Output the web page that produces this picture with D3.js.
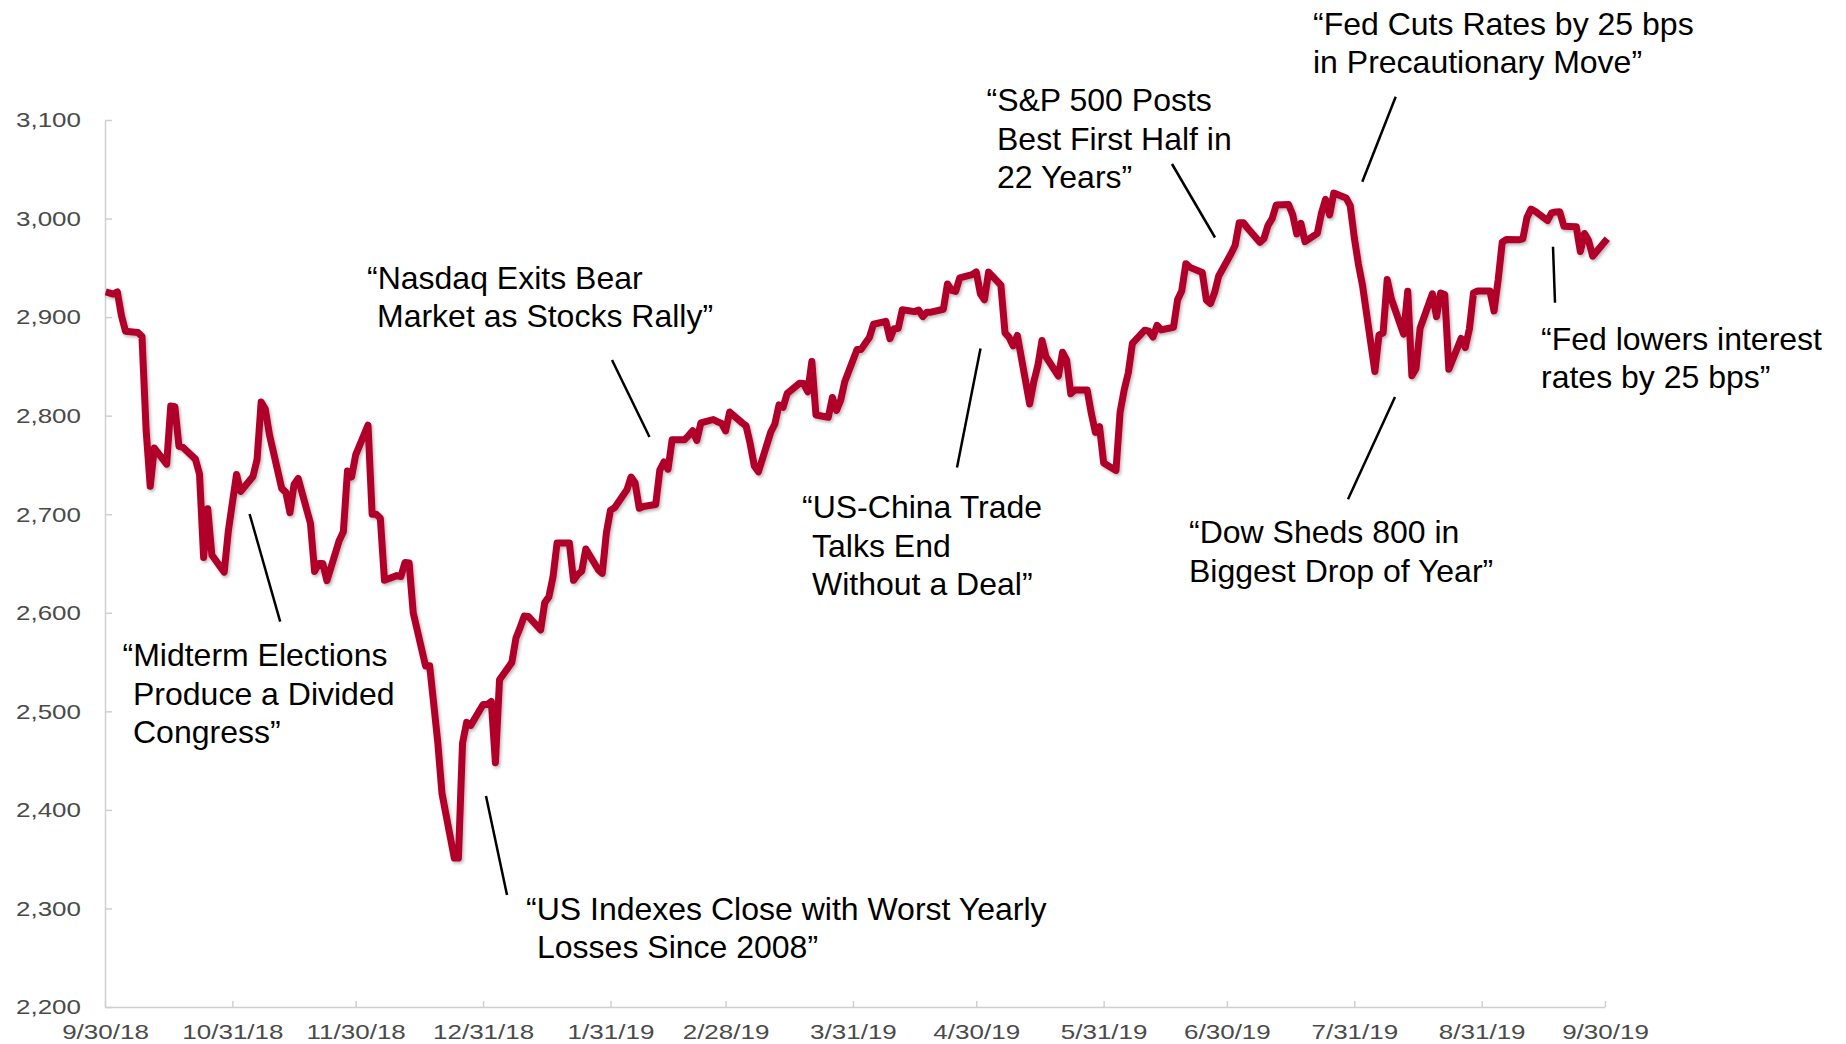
<!DOCTYPE html>
<html>
<head>
<meta charset="utf-8">
<script src="https://cdn.jsdelivr.net/npm/d3@7"></script>
<style>
  html, body { margin: 0; padding: 0; background: #fff; }
  svg { display: block; }
</style>
</head>
<body>
<svg id="chart" width="1846" height="1044"></svg>
<script>
// S&P 500 daily closes, Oct 2018 - Sep 2019 (market holidays carry the prior close)
const oct18Days  = [1,2,3,4,5,8,9,10,11,12,15,16,17,18,19,22,23,24,25,26,29,30,31];
const oct18Close = [2924.59,2923.43,2925.51,2901.61,2885.57,2884.43,2880.34,2785.68,2728.37,2767.13,2750.79,2809.92,2809.21,2768.78,2767.78,2755.88,2740.69,2656.10,2705.57,2658.69,2641.25,2682.63,2711.74];
const nov18Days  = [1,2,5,6,7,8,9,12,13,14,15,16,19,20,21,22,23,26,27,28,29,30];
const nov18Close = [2740.37,2723.06,2738.31,2755.45,2813.89,2806.83,2781.01,2726.22,2722.18,2701.58,2730.20,2736.27,2690.73,2641.89,2649.93,2649.93,2632.56,2673.45,2682.17,2743.79,2737.80,2760.17];
const dec18Days  = [3,4,5,6,7,10,11,12,13,14,17,18,19,20,21,24,25,26,27,28,31];
const dec18Close = [2790.37,2700.06,2700.06,2695.95,2633.08,2637.72,2636.78,2651.07,2650.54,2599.95,2545.94,2546.16,2506.96,2467.42,2416.62,2351.10,2351.10,2467.70,2488.83,2485.74,2506.85];
const jan19Days  = [1,2,3,4,7,8,9,10,11,14,15,16,17,18,21,22,23,24,25,28,29,30,31];
const jan19Close = [2506.85,2510.03,2447.89,2531.94,2549.69,2574.41,2584.96,2596.64,2596.26,2582.61,2610.30,2616.10,2635.96,2670.71,2670.71,2632.90,2638.70,2642.33,2664.76,2643.85,2640.00,2681.05,2704.10];
const feb19Days  = [1,4,5,6,7,8,11,12,13,14,15,18,19,20,21,22,25,26,27,28];
const feb19Close = [2706.53,2724.87,2737.70,2731.61,2706.05,2707.88,2709.80,2744.73,2753.03,2745.73,2775.60,2775.60,2779.76,2784.70,2774.88,2792.67,2796.11,2793.90,2792.38,2784.49];
const mar19Days  = [1,4,5,6,7,8,11,12,13,14,15,18,19,20,21,22,25,26,27,28,29];
const mar19Close = [2803.69,2792.81,2789.65,2771.45,2748.93,2743.07,2783.30,2791.52,2810.92,2808.48,2822.48,2832.94,2832.57,2824.23,2854.88,2800.71,2798.36,2818.46,2805.37,2815.44,2834.40];
const apr19Days  = [1,2,3,4,5,8,9,10,11,12,15,16,17,18,19,22,23,24,25,26,29,30];
const apr19Close = [2867.19,2867.24,2873.40,2879.39,2892.74,2895.77,2878.20,2888.21,2888.32,2907.41,2905.58,2907.06,2900.45,2905.03,2905.03,2907.97,2933.68,2927.25,2926.17,2939.88,2943.03,2945.83];
const may19Days  = [1,2,3,6,7,8,9,10,13,14,15,16,17,20,21,22,23,24,27,28,29,30,31];
const may19Close = [2923.73,2917.52,2945.64,2932.47,2884.05,2879.42,2870.72,2881.40,2811.87,2834.41,2850.96,2876.32,2859.53,2840.23,2864.36,2856.27,2822.24,2826.06,2826.06,2802.39,2783.02,2788.86,2752.06];
const jun19Days  = [3,4,5,6,7,10,11,12,13,14,17,18,19,20,21,24,25,26,27,28];
const jun19Close = [2744.45,2803.27,2826.15,2843.49,2873.34,2886.73,2885.72,2879.84,2891.64,2886.98,2889.67,2917.75,2926.46,2954.18,2950.46,2945.35,2917.38,2913.78,2924.92,2941.76];
const jul19Days  = [1,2,3,4,5,8,9,10,11,12,15,16,17,18,19,22,23,24,25,26,29,30,31];
const jul19Close = [2964.33,2973.01,2995.82,2995.82,2990.41,2975.95,2979.63,2993.07,2999.91,3013.77,3014.30,3004.04,2984.42,2995.11,2976.61,2985.03,3005.47,3019.56,3003.67,3025.86,3020.97,3013.18,2980.38];
const aug19Days  = [1,2,5,6,7,8,9,12,13,14,15,16,19,20,21,22,23,26,27,28,29,30];
const aug19Close = [2953.56,2932.05,2844.74,2881.77,2883.98,2938.09,2918.65,2882.70,2926.32,2840.60,2847.60,2888.68,2923.65,2900.51,2924.43,2922.95,2847.11,2878.38,2869.16,2887.94,2924.58,2926.46];
const sep19Days  = [2,3,4,5,6,9,10,11,12,13,16,17,18,19,20,23,24,25,26,27,30];
const sep19Close = [2926.46,2906.27,2937.78,2976.00,2978.71,2978.43,2979.39,3000.93,3009.57,3007.39,2997.96,3005.70,3006.73,3006.79,2992.07,2991.78,2966.60,2984.87,2977.62,2961.79,2976.74];

// Axis ticks
const yTickValues = [2200, 2300, 2400, 2500, 2600, 2700, 2800, 2900, 3000, 3100];
const xTickDates = ["2018-09-30","2018-10-31","2018-11-30","2018-12-31","2019-01-31","2019-02-28",
                    "2019-03-31","2019-04-30","2019-05-31","2019-06-30","2019-07-31","2019-08-31","2019-09-30"];

// Headlines
const headlineMidterm = ["\u201CMidterm Elections", "Produce a Divided", "Congress\u201D"];
const headlineYearEnd = ["\u201CUS Indexes Close with Worst Yearly", "Losses Since 2008\u201D"];
const headlineNasdaq  = ["\u201CNasdaq Exits Bear", "Market as Stocks Rally\u201D"];
const headlineTrade   = ["\u201CUS-China Trade", "Talks End", "Without a Deal\u201D"];
const headlineHalf    = ["\u201CS&P 500 Posts", "Best First Half in", "22 Years\u201D"];
const headlineJulyCut = ["\u201CFed Cuts Rates by 25 bps", "in Precautionary Move\u201D"];
const headlineDow     = ["\u201CDow Sheds 800 in", "Biggest Drop of Year\u201D"];
const headlineSepCut  = ["\u201CFed lowers interest", "rates by 25 bps\u201D"];

// ---- layout ----
const plot = { left: 105, right: 1605, top: 120, bottom: 1007 };
const lineColor = "#b0002c";
const axisColor = "#d0d0d0";
const tickLabelColor = "#4a4a4a";
const labelStretch = 1.3;   // tick labels are drawn horizontally widened
const sans = "'Liberation Sans', Arial, Helvetica, sans-serif";

const parse = d3.utcParse("%Y-%m-%d");

const months = [
  [2018, 10, oct18Days, oct18Close], [2018, 11, nov18Days, nov18Close], [2018, 12, dec18Days, dec18Close],
  [2019, 1, jan19Days, jan19Close],  [2019, 2, feb19Days, feb19Close],  [2019, 3, mar19Days, mar19Close],
  [2019, 4, apr19Days, apr19Close],  [2019, 5, may19Days, may19Close],  [2019, 6, jun19Days, jun19Close],
  [2019, 7, jul19Days, jul19Close],  [2019, 8, aug19Days, aug19Close],  [2019, 9, sep19Days, sep19Close]
];
const series = months.flatMap(([yr, mo, days, closes]) =>
  days.map((d, i) => ({ date: new Date(Date.UTC(yr, mo - 1, d)), close: closes[i] })));

const svg = d3.select("#chart");
svg.append("rect").attr("width", 1846).attr("height", 1044).attr("fill", "#fff");

const defs = svg.append("defs");
defs.append("filter").attr("id", "lineShadow")
  .attr("x", "-5%").attr("y", "-5%").attr("width", "110%").attr("height", "110%")
  .append("feDropShadow")
  .attr("dx", 1.5).attr("dy", 2).attr("stdDeviation", 1.6)
  .attr("flood-color", "#000").attr("flood-opacity", 0.28);

const x = d3.scaleUtc()
  .domain([parse(xTickDates[0]), parse(xTickDates[xTickDates.length - 1])])
  .range([plot.left, plot.right]);
const y = d3.scaleLinear()
  .domain([yTickValues[0], yTickValues[yTickValues.length - 1]])
  .range([plot.bottom, plot.top]);

// y axis
const gy = svg.append("g")
  .attr("transform", `translate(${plot.left},0)`)
  .call(d3.axisLeft(y).tickValues(yTickValues).tickFormat(d3.format(","))
    .tickSizeInner(-7).tickSizeOuter(0));
gy.select(".domain").attr("stroke", axisColor).attr("stroke-width", 1.5);
gy.selectAll(".tick line").attr("stroke", axisColor).attr("stroke-width", 1.5);
gy.selectAll(".tick text")
  .attr("x", -24 / labelStretch)
  .attr("dy", "0.34em")
  .attr("transform", `scale(${labelStretch},1)`)
  .attr("fill", tickLabelColor)
  .style("font-family", sans).style("font-size", "20px");

// x axis
const gx = svg.append("g")
  .attr("transform", `translate(0,${plot.bottom})`)
  .call(d3.axisBottom(x).tickValues(xTickDates.map(parse)).tickFormat(d3.utcFormat("%-m/%-d/%y"))
    .tickSizeInner(-6).tickSizeOuter(0));
gx.select(".domain").attr("stroke", axisColor).attr("stroke-width", 1.5);
gx.selectAll(".tick line").attr("stroke", axisColor).attr("stroke-width", 1.5);
gx.selectAll(".tick text")
  .attr("y", 32).attr("dy", 0)
  .attr("transform", `scale(${labelStretch},1)`)
  .attr("fill", tickLabelColor)
  .style("font-family", sans).style("font-size", "20px");

// index line
const line = d3.line().x(d => x(d.date)).y(d => y(d.close));
svg.append("path")
  .datum(series)
  .attr("d", line)
  .attr("fill", "none")
  .attr("stroke", lineColor)
  .attr("stroke-width", 7)
  .attr("stroke-linejoin", "round")
  .attr("stroke-linecap", "square")
  .attr("filter", "url(#lineShadow)");

// headline call-outs: text block (left x, first baseline, indent for continuation lines) and leader line
const callouts = [
  { lines: headlineMidterm, x: 122.5, y: 666,   indent: 10.5, leader: [249.6, 514, 280.2, 621.6] },
  { lines: headlineYearEnd, x: 526,   y: 919.5, indent: 11,   leader: [486, 796, 507, 895] },
  { lines: headlineNasdaq,  x: 367,   y: 288.5, indent: 10,   leader: [612, 360, 649.5, 437] },
  { lines: headlineTrade,   x: 802,   y: 518,   indent: 10,   leader: [980.5, 348.5, 957, 467.5] },
  { lines: headlineHalf,    x: 986.5, y: 111,   indent: 10.5, leader: [1172, 164, 1215, 237.5] },
  { lines: headlineJulyCut, x: 1313,  y: 34.5,  indent: 0,    leader: [1395.7, 96.7, 1362.3, 181.7] },
  { lines: headlineDow,     x: 1189,  y: 543,   indent: 0,    leader: [1395, 397, 1348, 499.3] },
  { lines: headlineSepCut,  x: 1541,  y: 349.5, indent: 0,    leader: [1553, 246.7, 1555, 302.7] }
];
const lineGap = 38.5;

const callG = svg.append("g").attr("class", "callouts");
callouts.forEach(c => {
  callG.append("line")
    .attr("x1", c.leader[0]).attr("y1", c.leader[1])
    .attr("x2", c.leader[2]).attr("y2", c.leader[3])
    .attr("stroke", "#000").attr("stroke-width", 2.5);
  const t = callG.append("text")
    .attr("fill", "#000")
    .style("font-family", sans).style("font-size", "32px");
  c.lines.forEach((ln, i) => {
    t.append("tspan")
      .attr("x", c.x + (i > 0 ? c.indent : 0))
      .attr("y", c.y + i * lineGap)
      .text(ln);
  });
});
</script>
</body>
</html>
